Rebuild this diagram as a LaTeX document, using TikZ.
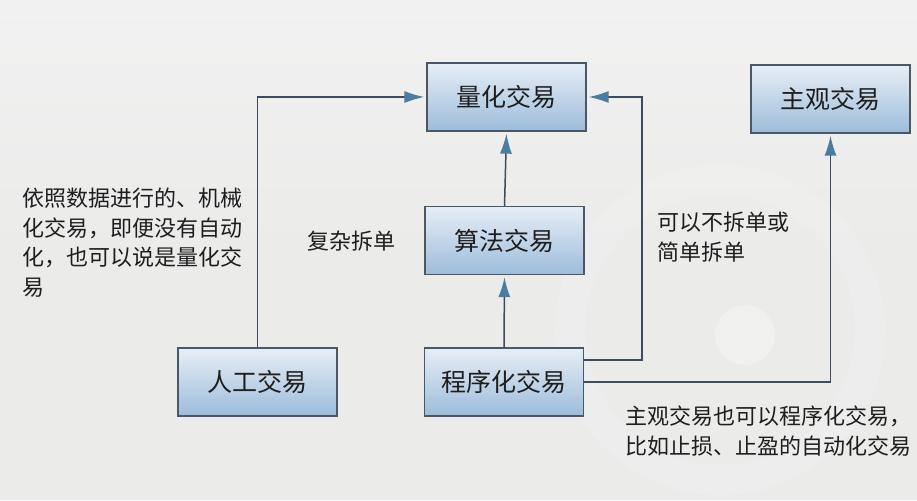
\documentclass[tikz,border=0pt]{standalone}
\usepackage{fontspec}
\setmainfont{Noto Sans CJK SC}
\usetikzlibrary{arrows.meta,positioning}
\definecolor{bgc}{HTML}{EBEBEA}
\definecolor{bgtop}{HTML}{F1F1F1}
\definecolor{linec}{HTML}{3E4B5C}
\definecolor{arrc}{HTML}{4A7DA2}
\definecolor{boxtop}{HTML}{E6EEF6}
\definecolor{boxbot}{HTML}{9DBCDA}
\definecolor{boxline}{HTML}{4A5866}
\definecolor{txtc}{HTML}{1E1E1E}
\tikzset{
  tbox/.style={draw=boxline, line width=1.3pt, top color=boxtop, bottom color=boxbot,
    minimum width=159pt, minimum height=68pt, inner sep=0pt,
    font=\fontsize{25}{28}\selectfont, text=txtc},
  conn/.style={draw=linec, line width=1.5pt},
  arr/.style={conn, -{Latex[length=20pt,width=12pt,color=arrc]}, shorten >=2pt},
  note/.style={font=\fontsize{22}{29.5}\selectfont, text=txtc, inner sep=0pt, align=left}
}
\begin{document}
\begin{tikzpicture}[x=1pt,y=-1pt]
\shade[top color=bgtop, bottom color=bgc] (0,0) rectangle (917,250);
\fill[bgc] (0,250) rectangle (917,500);
\useasboundingbox (0,0) rectangle (917,500);
\draw[white, opacity=0.15, line width=30pt] (720,330) circle[radius=150];
\fill[white, opacity=0.25] (745,335) circle[radius=30];

\node[tbox] (lh) at (506.5,97) {量化交易};
\node[tbox] (zg) at (830.5,99) {主观交易};
\node[tbox] (sf) at (504.5,240.5) {算法交易};
\node[tbox] (rg) at (257.5,382) {人工交易};
\node[tbox] (cx) at (504,382) {程序化交易};

\coordinate (k1) at (642,360);
\coordinate (k2) at (642,97);

\draw[arr] (rg.north) |- (lh.west);
\draw[arr] (sf.north) -- (lh.south);
\draw[arr] (cx.north) -- (sf.south);
\draw[arr] (cx.east |- k1) -- (k1) -- (k2) -- (lh.east);
\draw[arr] (cx.east) -| (zg.south);

\node[note, anchor=north west] (t1) at (22,188) {依照数据进行的、机械\\化交易，即便没有自动\\化，也可以说是量化交\\易};
\node[note, anchor=center] (t2) at (351,241) {复杂拆单};
\node[note, anchor=north west] (t3) at (657,212) {可以不拆单或\\简单拆单};
\node[note, anchor=north west] (t4) at (625,406) {主观交易也可以程序化交易，\\比如止损、止盈的自动化交易};
\end{tikzpicture}
\end{document}
